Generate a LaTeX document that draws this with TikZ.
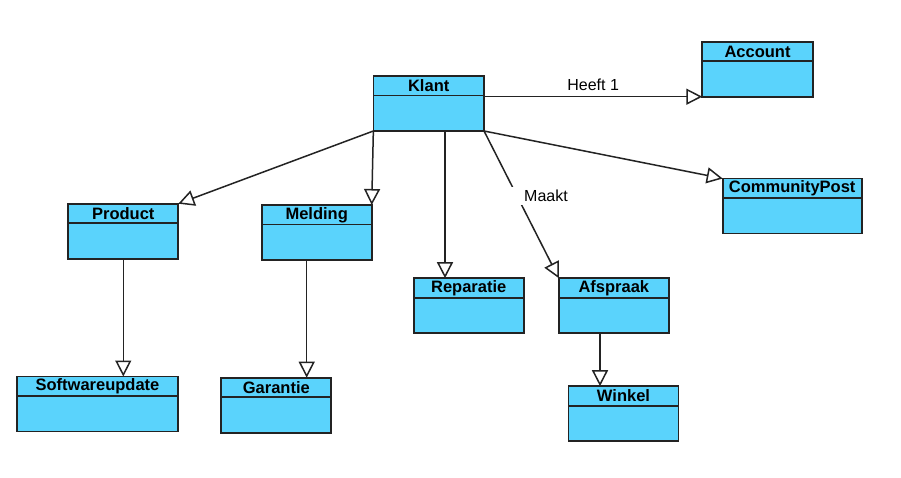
\documentclass[tikz,border=0pt]{standalone}
\usepackage{fontspec}
\setmainfont{Liberation Sans}
\usetikzlibrary{arrows.meta,calc}
\definecolor{clsfill}{RGB}{90,211,252}
\definecolor{clsline}{RGB}{35,35,35}
\tikzset{
 cls/.style={draw=clsline, fill=clsfill, line width=1.7pt, minimum width=110pt, minimum height=55pt, inner sep=0pt, outer sep=0pt},
 ttl/.style={font=\bfseries\fontsize{16.5}{18}\selectfont, text=black, inner sep=0pt, anchor=center},
 conn/.style={draw=clsline, line width=1.5pt, -{Triangle[fill=white,length=16pt,width=16pt]}},
 lbl/.style={font=\fontsize{16}{18}\selectfont, text=black, inner sep=0pt}
}
\newcommand\umlhead[2]{%
 \draw[draw=clsline, line width=1.7pt] ([yshift=-19.5pt]#1.north west) -- ([yshift=-19.5pt]#1.north east);
 \node[ttl] (#1-t) at ([yshift=-9.8pt]#1.north) {#2};}
\begin{document}
\begin{tikzpicture}[x=1pt,y=-1pt]
\useasboundingbox[fill=white] (0,0) rectangle (901,477);
% classes
\node[cls, minimum width=110.7pt] (klant) at (428.7,103.5) {};
\node[cls, minimum width=110.4pt] (account) at (757.5,69.2) {};
\node[cls] (product) at (123.3,231.2) {};
\node[cls] (melding) at (316.7,232.5) {};
\node[cls] (reparatie) at (468.7,305.7) {};
\node[cls] (afspraak) at (613.8,305.7) {};
\node[cls, minimum width=139pt] (cp) at (792.2,206) {};
\node[cls, minimum width=161.6pt] (software) at (97.5,404) {};
\node[cls] (garantie) at (276.3,405.2) {};
\node[cls] (winkel) at (623.5,413.7) {};
\umlhead{klant}{Klant}
\umlhead{account}{Account}
\umlhead{product}{Product}
\umlhead{melding}{Melding}
\umlhead{reparatie}{Reparatie}
\umlhead{afspraak}{Afspraak}
\umlhead{cp}{CommunityPost}
\umlhead{software}{Softwareupdate}
\umlhead{garantie}{Garantie}
\umlhead{winkel}{Winkel}
% connectors
\draw[conn] (klant.east |- account.south west) -- node[lbl, above=5pt] (heeft) {Heeft 1} (account.south west);
\draw[conn] (klant.south west) -- (product.north east);
\draw[conn] (klant.south west) -- (melding.north east);
\draw[conn] ([xshift=16.3pt]klant.south) -- ([xshift=16.3pt]klant.south |- reparatie.north);
\draw[conn] (klant.south east) -- (afspraak.north west);
\node[lbl, fill=white, minimum width=70pt, minimum height=18pt] (maakt) at (546,196) {Maakt};
\draw[conn] (klant.south east) -- (cp.north west);
\draw[conn] (product.south) -- (product.south |- software.north);
\draw[conn] ([xshift=-10pt]melding.south) -- ([xshift=-10pt]melding.south |- garantie.north);
\draw[conn] ([xshift=-13.8pt]afspraak.south) -- ([xshift=-13.8pt]afspraak.south |- winkel.north);
\end{tikzpicture}
\end{document}
